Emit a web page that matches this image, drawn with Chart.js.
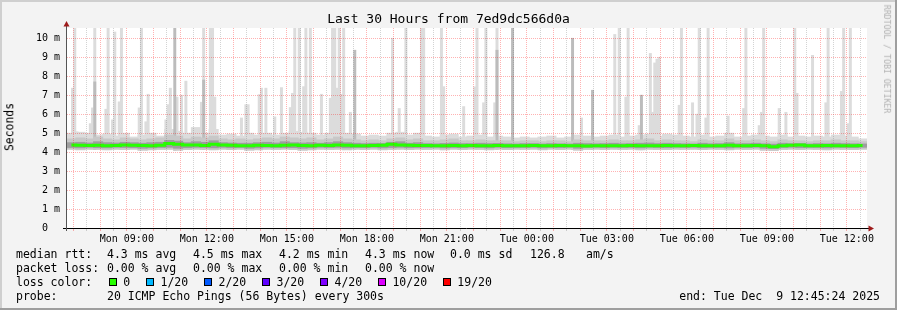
<!DOCTYPE html>
<html lang="en">
<head>
<meta charset="UTF-8">
<title>Last 30 Hours from 7ed9dc566d0a</title>
<script src="https://cdn.jsdelivr.net/npm/chart.js"></script>
<style>
  html, body { margin: 0; padding: 0; background: #f3f3f3; }
  #wrap { position: relative; width: 897px; height: 310px; overflow: hidden; }
  #chart { position: absolute; left: 0; top: 0; }
  .t { position: absolute; font-family: 'DejaVu Sans Mono', monospace; font-size: 11.5px; line-height: 14px; white-space: pre; color: #000; }
  #title { left: 0; width: 897px; top: 11px; text-align: center; font-size: 13px; line-height: 16px; }
  #ylabel { left: 10px; top: 127px; font-size: 11.4px; line-height: 11.4px; transform: translate(-50%, -50%) rotate(-90deg); }
  #wm { left: 887px; top: 59px; font-size: 8.2px; line-height: 8.2px; color: #b0b0b0; transform: translate(-50%, -50%) rotate(90deg); }
  #loss { position: absolute; left: 108.7px; top: 275px; height: 14px; display: flex; align-items: center; }
  #loss .box { width: 6px; height: 6px; border: 1px solid #000; margin-right: 6.6px; }
  #loss .lab { font-family: 'DejaVu Sans Mono', monospace; font-size: 11.5px; line-height: 14px; white-space: pre; margin-right: 15.7px; }
</style>
</head>
<body>
<div id="wrap">
  <canvas id="chart" width="897" height="310"></canvas>
  <div id="title" class="t">Last 30 Hours from 7ed9dc566d0a</div>
  <div id="ylabel" class="t">Seconds</div>
  <div id="wm" class="t">RRDTOOL / TOBI OETIKER</div>

  <!-- legend -->
  <div class="t" style="left:16px;top:247px">median rtt:</div>
  <div class="t" style="left:107px;top:247px">4.3 ms avg</div>
  <div class="t" style="left:193px;top:247px">4.5 ms max</div>
  <div class="t" style="left:279px;top:247px">4.2 ms min</div>
  <div class="t" style="left:365px;top:247px">4.3 ms now</div>
  <div class="t" style="left:450px;top:247px">0.0 ms sd</div>
  <div class="t" style="left:530px;top:247px">126.8</div>
  <div class="t" style="left:586px;top:247px">am/s</div>

  <div class="t" style="left:16px;top:261px">packet loss:</div>
  <div class="t" style="left:107px;top:261px">0.00 % avg</div>
  <div class="t" style="left:193px;top:261px">0.00 % max</div>
  <div class="t" style="left:279px;top:261px">0.00 % min</div>
  <div class="t" style="left:365px;top:261px">0.00 % now</div>

  <div class="t" style="left:16px;top:275px">loss color:</div>
  <div id="loss"></div>

  <div class="t" style="left:16px;top:289px">probe:</div>
  <div class="t" style="left:107px;top:289px">20 ICMP Echo Pings (56 Bytes) every 300s</div>
  <div class="t" style="right:17px;top:289px">end: Tue Dec  9 12:45:24 2025</div>
</div>

<script>
// time axis: hours since Mon 00:00, graph ends Tue 12:45:24, 30 hours shown
const START_H = 6 + 45 / 60 + 24 / 3600;
const END_H = START_H + 30;
const STEP_H = 5 / 60;          // one rrd sample = 300s
const SEG = 4;                  // samples per smoke/median segment (20 min)

const xTickHours = [9, 12, 15, 18, 21, 24, 27, 30, 33, 36];
const xTickLabels = ['Mon 09:00', 'Mon 12:00', 'Mon 15:00', 'Mon 18:00', 'Mon 21:00',
                     'Tue 00:00', 'Tue 03:00', 'Tue 06:00', 'Tue 09:00', 'Tue 12:00'];
const yTickLabels = ['0  ', '1 m', '2 m', '3 m', '4 m', '5 m', '6 m', '7 m', '8 m', '9 m', '10 m'];

// median rtt (ms), one value per 20 min segment
const median = [
  4.38,4.36,4.35,4.36,4.34,4.35,4.37,4.36,4.35,4.34,
  4.36,4.45,4.42,4.38,4.37,4.35,4.42,4.37,4.36,4.34,
  4.33,4.36,4.35,4.34,4.36,4.37,4.35,4.34,4.36,4.35,
  4.38,4.36,4.34,4.33,4.35,4.36,4.42,4.38,4.36,4.35,
  4.35,4.33,4.34,4.35,4.34,4.35,4.33,4.34,4.35,4.33,
  4.34,4.33,4.35,4.34,4.33,4.35,4.34,4.33,4.32,4.34,
  4.33,4.34,4.33,4.35,4.34,4.33,4.34,4.35,4.33,4.34,
  4.35,4.34,4.33,4.34,4.36,4.34,4.33,4.35,4.33,4.28,
  4.34,4.36,4.38,4.34,4.33,4.35,4.34,4.33,4.34,4.35
];
// smoke envelope per segment (ms)
const smokeLow = [
  4.15,4.12,4.15,4.14,4.12,4.15,4.13,4.15,4.10,4.12,
  4.14,4.15,4.10,4.13,4.15,4.14,4.12,4.15,4.13,4.15,
  4.10,4.12,4.15,4.14,4.15,4.13,4.10,4.12,4.15,4.14,
  4.15,4.12,4.15,4.13,4.15,4.12,4.14,4.15,4.13,4.15,
  4.14,4.15,4.12,4.15,4.13,4.15,4.14,4.12,4.15,4.13,
  4.15,4.14,4.15,4.12,4.15,4.13,4.15,4.10,4.14,4.15,
  4.13,4.15,4.14,4.15,4.12,4.15,4.14,4.13,4.15,4.14,
  4.15,4.13,4.15,4.14,4.12,4.15,4.14,4.15,4.10,4.08,
  4.14,4.15,4.13,4.15,4.14,4.12,4.15,4.14,4.13,4.15
];
const smokeTop = [
  5.00,5.05,5.00,4.90,4.95,4.85,5.00,4.80,4.90,5.00,
  4.85,5.20,5.10,5.00,5.30,5.00,5.20,4.90,4.95,4.85,
  5.00,4.90,5.00,4.90,5.00,5.10,5.05,5.00,4.90,5.00,
  5.10,5.00,4.95,4.85,4.90,4.85,5.00,5.05,4.90,5.00,
  4.85,4.80,4.90,4.95,4.80,4.85,4.90,4.80,4.85,4.80,
  4.75,4.80,4.75,4.80,4.85,4.75,4.80,4.90,4.85,4.80,
  4.85,4.90,4.80,4.85,4.90,4.95,4.85,4.95,4.90,4.85,
  4.80,4.90,4.80,4.85,5.00,4.80,4.85,4.90,4.85,4.80,
  4.90,4.80,4.85,4.80,4.85,4.80,4.90,4.85,4.80,4.70
];
const smokeMid = [
  4.70,4.75,4.70,4.80,4.70,4.65,4.75,4.70,4.65,4.70,
  4.75,4.90,4.85,4.70,4.80,4.75,4.85,4.70,4.65,4.70,
  4.65,4.70,4.75,4.70,4.80,4.75,4.70,4.75,4.65,4.70,
  4.80,4.70,4.65,4.60,4.65,4.60,4.70,4.75,4.65,4.70,
  4.60,4.60,4.65,4.70,4.60,4.60,4.65,4.60,4.60,4.60,
  4.55,4.60,4.60,4.55,4.60,4.60,4.55,4.65,4.60,4.60,
  4.60,4.65,4.60,4.60,4.65,4.70,4.60,4.65,4.60,4.60,
  4.55,4.65,4.60,4.60,4.70,4.60,4.60,4.65,4.60,4.55,
  4.65,4.60,4.60,4.55,4.60,4.60,4.65,4.60,4.60,4.55
];
const darkLow = [
  4.24,4.22,4.25,4.23,4.22,4.25,4.24,4.23,4.20,4.22,
  4.24,4.25,4.20,4.23,4.25,4.24,4.22,4.25,4.23,4.24,
  4.20,4.22,4.25,4.24,4.23,4.23,4.20,4.22,4.25,4.24,
  4.25,4.22,4.24,4.23,4.25,4.22,4.24,4.25,4.23,4.24,
  4.24,4.25,4.22,4.24,4.23,4.25,4.24,4.22,4.25,4.23,
  4.24,4.24,4.25,4.22,4.24,4.23,4.25,4.20,4.24,4.25,
  4.23,4.25,4.24,4.24,4.22,4.25,4.24,4.23,4.25,4.24,
  4.25,4.23,4.24,4.24,4.22,4.25,4.24,4.25,4.20,4.18,
  4.24,4.25,4.23,4.24,4.24,4.22,4.25,4.24,4.23,4.25
];
const darkTop = [
  4.50,4.52,4.48,4.55,4.50,4.48,4.52,4.50,4.47,4.50,
  4.52,4.62,4.58,4.50,4.55,4.52,4.60,4.50,4.48,4.47,
  4.47,4.50,4.52,4.48,4.55,4.50,4.48,4.50,4.47,4.50,
  4.55,4.50,4.47,4.45,4.47,4.46,4.52,4.55,4.47,4.50,
  4.45,4.44,4.46,4.48,4.45,4.45,4.47,4.45,4.46,4.44,
  4.43,4.45,4.45,4.43,4.45,4.44,4.43,4.47,4.45,4.44,
  4.45,4.47,4.44,4.45,4.47,4.48,4.45,4.47,4.45,4.44,
  4.43,4.47,4.44,4.45,4.50,4.44,4.45,4.47,4.44,4.42,
  4.47,4.45,4.46,4.43,4.45,4.44,4.47,4.45,4.44,4.43
];
// single-sample smoke spikes: sample index (0..359) and highest ping (ms)
const lightSpikeIdx = [2,3,4,10,11,12,17,18,20,21,23,24,32,33,35,36,44,45,46,49,
  51,53,60,61,64,65,66,78,80,81,86,87,89,93,96,100,101,102,104,106,
  107,109,114,118,119,120,121,122,123,124,127,146,149,152,159,160,168,169,178,183,
  184,187,188,192,193,231,246,248,251,252,257,262,263,264,265,266,275,276,281,283,
  284,287,288,297,304,305,311,312,313,320,323,327,328,335,341,342,348,349,351,352];
const lightSpikeTop = [7.37,12,5.07,5.5,6.33,12,6.26,12,5.7,10.33,6.65,12,6.33,12,5.6,7.05,5.7,6.5,7.37,6.9,
  7.0,7.74,6.63,12,12,12,6.9,5.8,6.5,6.5,7.03,7.37,7.37,5.86,7.4,6.35,7.1,12,12,7.45,
  12,12,7.05,6.84,12,12,7.37,12,7.05,12,6.1,10.0,6.3,12,12,12,12,7.45,6.4,7.44,
  12,6.6,12,6.6,12,5.8,10.2,12,6.9,12,5.4,9.2,6.1,8.7,8.9,9.0,6.47,12,6.6,6.0,
  12,5.8,12,5.9,6.3,12,5.4,6.1,12,6.3,6.1,12,7.1,9.1,6.6,12,7.2,12,5.5,12];
const darkSpikeIdx = [12, 48, 61, 129, 193, 200, 227, 236, 258];
const darkSpikeTop = [7.7, 12, 7.8, 9.37, 9.37, 12, 10.0, 7.26, 7.0];

const lossLabels = ['0', '1/20', '2/20', '3/20', '4/20', '10/20', '19/20'];
const lossColors = ['#26ff00', '#00b8ff', '#0059ff', '#5e00ff', '#7e00ff', '#dd00ff', '#ff0000'];

const lossBox = document.getElementById('loss');
lossLabels.forEach((lab, i) => {
  const b = document.createElement('span');
  b.className = 'box';
  b.style.background = lossColors[i];
  const s = document.createElement('span');
  s.className = 'lab';
  s.textContent = lab;
  lossBox.appendChild(b);
  lossBox.appendChild(s);
});

const segX = k => START_H + (k + 0.5) * SEG * STEP_H;
const sampleX = i => START_H + (i + 0.5) * STEP_H;
const band = (lo, hi) => lo.map((v, k) => ({ x: segX(k), y: [v, hi[k]] }));
const spikes = (idx, top) => idx.map((i, n) => ({ x: sampleX(i), y: [smokeLow[Math.floor(i / SEG)], top[n]] }));

const gridHalfHours = [];
for (let h = Math.ceil(START_H * 2) / 2; h < END_H; h += 0.5) gridHalfHours.push(h);
const yGrid = [];
for (let v = 0; v <= 10.5; v += 0.5) yGrid.push(v);

const MAJOR = 'rgba(255,0,0,0.3)';
const MINOR = 'rgba(110,110,110,0.3)';

const frame = {
  id: 'frame',
  beforeDraw(chart) {
    const c = chart.ctx, a = chart.chartArea, w = chart.width, h = chart.height;
    c.save();
    c.fillStyle = '#f3f3f3';
    c.fillRect(0, 0, w, h);
    c.fillStyle = '#cfcfcf';
    c.fillRect(0, 0, w, 2);
    c.fillRect(0, 0, 2, h);
    c.fillStyle = '#9e9e9e';
    c.fillRect(0, h - 2, w, 2);
    c.fillRect(w - 2, 0, 2, h);
    c.fillStyle = '#fff';
    c.fillRect(a.left, a.top, a.right - a.left, a.bottom - a.top);
    c.restore();
  },
  afterDraw(chart) {
    const c = chart.ctx, a = chart.chartArea;
    c.save();
    c.lineWidth = 1;
    c.strokeStyle = '#000';
    c.beginPath();
    c.moveTo(a.left - 4, a.bottom + 0.5);
    c.lineTo(a.right + 3, a.bottom + 0.5);
    c.stroke();
    c.strokeStyle = '#555';
    c.beginPath();
    c.moveTo(a.left - 0.5, a.bottom + 3);
    c.lineTo(a.left - 0.5, a.top - 4);
    c.stroke();
    c.fillStyle = '#9e1b1b';
    c.beginPath();
    c.moveTo(a.left - 0.5, a.top - 7);
    c.lineTo(a.left - 3.5, a.top - 1.5);
    c.lineTo(a.left + 2.5, a.top - 1.5);
    c.closePath();
    c.fill();
    c.beginPath();
    c.moveTo(a.right + 7, a.bottom + 0.5);
    c.lineTo(a.right + 1.5, a.bottom - 2.5);
    c.lineTo(a.right + 1.5, a.bottom + 3.5);
    c.closePath();
    c.fill();
    c.restore();
  }
};

const barBase = { type: 'bar', grouped: false, borderWidth: 0, borderSkipped: false, clip: 0 };
const segPx = 9.4, samplePx = 2.3;

new Chart(document.getElementById('chart'), {
  type: 'bar',
  data: {
    datasets: [
      { type: 'line', label: 'median', data: median.map((v, k) => ({ x: segX(k), y: v })),
        borderColor: '#26ff00', borderWidth: 3, pointRadius: 0, stepped: 'middle', order: 0, clip: 0 },
      { ...barBase, label: 'dark smoke', data: band(darkLow, darkTop), backgroundColor: '#9e9e9e', barThickness: segPx, order: 1 },
      { ...barBase, label: 'mid smoke', data: band(smokeLow, smokeMid), backgroundColor: '#c8c8c8', barThickness: segPx, order: 2 },
      { ...barBase, label: 'dark spikes', data: spikes(darkSpikeIdx, darkSpikeTop), backgroundColor: '#bcbcbc', barThickness: samplePx, order: 3 },
      { ...barBase, label: 'light spikes', data: spikes(lightSpikeIdx, lightSpikeTop), backgroundColor: '#dcdcdc', barThickness: samplePx, order: 4 },
      { ...barBase, label: 'light smoke', data: band(smokeLow, smokeTop), backgroundColor: '#dcdcdc', barThickness: segPx, order: 5 }
    ]
  },
  options: {
    responsive: false,
    animation: false,
    devicePixelRatio: 1,
    layout: { padding: { left: 0, top: 28, right: 30, bottom: 0 } },
    plugins: { legend: { display: false }, tooltip: { enabled: false } },
    scales: {
      x: {
        type: 'linear', min: START_H, max: END_H, offset: false,
        afterBuildTicks: s => { s.ticks = gridHalfHours.map(v => ({ value: v })); },
        afterFit: s => { s.height = 82; },
        ticks: {
          autoSkip: false, maxRotation: 0, minRotation: 0, padding: 2, color: '#000',
          font: { family: 'DejaVu Sans Mono', size: 10 },
          callback: v => {
            const i = xTickHours.findIndex(h => Math.abs(h - v) < 1e-6);
            return i >= 0 ? xTickLabels[i] : '';
          }
        },
        grid: {
          z: 1, offset: false, lineWidth: 1, tickLength: 3,
          color: ctx => Number.isInteger(ctx.tick.value) ? MAJOR : MINOR,
          tickColor: ctx => Number.isInteger(ctx.tick.value) ? MAJOR : MINOR
        },
        border: { display: false, dash: [1, 1] }
      },
      y: {
        min: 0, max: 10.54,
        afterBuildTicks: s => { s.ticks = yGrid.map(v => ({ value: v })); },
        afterFit: s => { s.width = 67; },
        ticks: {
          padding: 7, color: '#000',
          font: { family: 'DejaVu Sans Mono', size: 10 },
          callback: v => Number.isInteger(v) ? yTickLabels[v] : ''
        },
        grid: {
          z: 1, drawTicks: false, lineWidth: 1,
          color: ctx => Number.isInteger(ctx.tick.value) ? MAJOR : MINOR
        },
        border: { display: false, dash: [1, 1] }
      }
    }
  },
  plugins: [frame]
});
</script>
</body>
</html>
